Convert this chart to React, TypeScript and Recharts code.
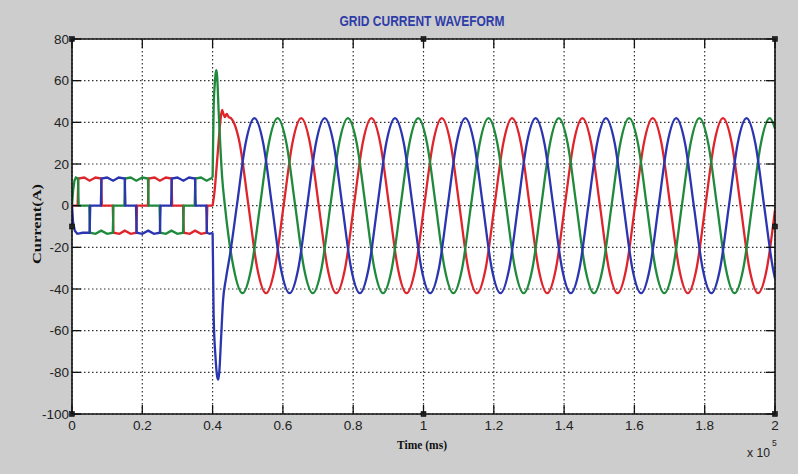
import React from 'react';
import { LineChart, Line, XAxis, YAxis, CartesianGrid, ReferenceDot } from 'recharts';

// x in units of 1e5 (as on the axis), y = current (A)
const X_TICKS = [0, 0.2, 0.4, 0.6, 0.8, 1, 1.2, 1.4, 1.6, 1.8, 2];
const Y_TICKS = [-100, -80, -60, -40, -20, 0, 20, 40, 60, 80];

const TITLE = 'GRID CURRENT WAVEFORM';
const X_LABEL = 'Time (ms)';
const Y_LABEL = 'Current(A)';

// ---- before t = 0.4 : six-step currents ----
const redStep: [number, number][] = [
  [0, 0], [0.016, 0], [0.018, 13], [0.035, 13.5], [0.05, 12], [0.067, 13.5], [0.083, 13], [0.085, 0],
  [0.116, 0], [0.118, -13], [0.135, -13.5], [0.15, -12], [0.167, -13.5], [0.183, -13], [0.185, 0],
  [0.216, 0], [0.218, 13], [0.235, 13.5], [0.25, 12], [0.267, 13.5], [0.283, 13], [0.285, 0],
  [0.316, 0], [0.318, -13], [0.335, -13.5], [0.35, -12], [0.367, -13.5], [0.383, -13], [0.385, 0],
  [0.4, 0],
];
const greenStep: [number, number][] = [
  [0, 0], [0.003, 7], [0.007, 12], [0.011, 13.5], [0.017, 13], [0.019, 0],
  [0.049, 0], [0.051, -13], [0.067, -13.5], [0.083, -12], [0.1, -13.5], [0.116, -13], [0.118, 0],
  [0.149, 0], [0.151, 13], [0.167, 13.5], [0.183, 12], [0.2, 13.5], [0.216, 13], [0.218, 0],
  [0.249, 0], [0.251, -13], [0.267, -13.5], [0.283, -12], [0.3, -13.5], [0.316, -13], [0.318, 0],
  [0.349, 0], [0.351, 13], [0.367, 13.5], [0.383, 12], [0.4, 13.5],
];
const blueStep: [number, number][] = [
  [0, 0], [0.003, -8], [0.008, -12], [0.015, -13.5], [0.03, -13], [0.05, -13], [0.052, 0],
  [0.082, 0], [0.084, 13], [0.1, 13.5], [0.117, 12], [0.133, 13.5], [0.15, 13], [0.152, 0],
  [0.182, 0], [0.184, -13], [0.2, -13.5], [0.217, -12], [0.233, -13.5], [0.25, -13], [0.252, 0],
  [0.282, 0], [0.284, 13], [0.3, 13.5], [0.317, 12], [0.333, 13.5], [0.35, 13], [0.352, 0],
  [0.382, 0], [0.384, -13], [0.392, -13.5], [0.4, -13],
];

// ---- from t = 0.4 : transient, then sinusoidal currents ----
const redWave: [number, number][] = [
  [0.4, 0], [0.405, 6], [0.414, 24], [0.423, 42], [0.427, 46], [0.431, 44], [0.435, 42.5], [0.44, 44],
  [0.446, 42.5], [0.452, 42], [0.477, 30], [0.502, 0], [0.527, -30], [0.552, -42], [0.577, -30],
  [0.602, 0], [0.627, 30], [0.652, 42], [0.677, 30], [0.702, 0], [0.727, -30], [0.752, -42], [0.777, -30],
  [0.802, 0], [0.827, 30], [0.852, 42], [0.877, 30], [0.902, 0], [0.927, -30], [0.952, -42], [0.977, -30],
  [1.002, 0], [1.027, 30], [1.052, 42], [1.077, 30], [1.102, 0], [1.127, -30], [1.152, -42], [1.177, -30],
  [1.202, 0], [1.227, 30], [1.252, 42], [1.277, 30], [1.302, 0], [1.327, -30], [1.352, -42], [1.377, -30],
  [1.402, 0], [1.427, 30], [1.452, 42], [1.477, 30], [1.502, 0], [1.527, -30], [1.552, -42], [1.577, -30],
  [1.602, 0], [1.627, 30], [1.652, 42], [1.677, 30], [1.702, 0], [1.727, -30], [1.752, -42], [1.777, -30],
  [1.802, 0], [1.827, 30], [1.852, 42], [1.877, 30], [1.902, 0], [1.927, -30], [1.952, -42], [1.977, -30],
  [2.0, -2],
];
const greenWave: [number, number][] = [
  [0.4, 13.5], [0.401, 25], [0.403, 47], [0.406, 58], [0.409, 64], [0.411, 65], [0.413, 62], [0.417, 46],
  [0.421, 32], [0.427, 14], [0.435, 0], [0.46, -30], [0.485, -42], [0.51, -30], [0.535, 0], [0.56, 30],
  [0.585, 42], [0.61, 30], [0.635, 0], [0.66, -30], [0.685, -42], [0.71, -30], [0.735, 0], [0.76, 30],
  [0.785, 42], [0.81, 30], [0.835, 0], [0.86, -30], [0.885, -42], [0.91, -30], [0.935, 0], [0.96, 30],
  [0.985, 42], [1.01, 30], [1.035, 0], [1.06, -30], [1.085, -42], [1.11, -30], [1.135, 0], [1.16, 30],
  [1.185, 42], [1.21, 30], [1.235, 0], [1.26, -30], [1.285, -42], [1.31, -30], [1.335, 0], [1.36, 30],
  [1.385, 42], [1.41, 30], [1.435, 0], [1.46, -30], [1.485, -42], [1.51, -30], [1.535, 0], [1.56, 30],
  [1.585, 42], [1.61, 30], [1.635, 0], [1.66, -30], [1.685, -42], [1.71, -30], [1.735, 0], [1.76, 30],
  [1.785, 42], [1.81, 30], [1.835, 0], [1.86, -30], [1.885, -42], [1.91, -30], [1.935, 0], [1.96, 30],
  [1.985, 42], [2.0, 37],
];
const blueWave: [number, number][] = [
  [0.4, -13], [0.401, -25], [0.403, -53], [0.408, -72], [0.413, -82], [0.416, -83.5], [0.419, -80],
  [0.424, -64], [0.43, -45], [0.438, -35], [0.45, -23], [0.469, 0], [0.494, 30], [0.519, 42], [0.544, 30],
  [0.569, 0], [0.594, -30], [0.619, -42], [0.644, -30], [0.669, 0], [0.694, 30], [0.719, 42], [0.744, 30],
  [0.769, 0], [0.794, -30], [0.819, -42], [0.844, -30], [0.869, 0], [0.894, 30], [0.919, 42], [0.944, 30],
  [0.969, 0], [0.994, -30], [1.019, -42], [1.044, -30], [1.069, 0], [1.094, 30], [1.119, 42], [1.144, 30],
  [1.169, 0], [1.194, -30], [1.219, -42], [1.244, -30], [1.269, 0], [1.294, 30], [1.319, 42], [1.344, 30],
  [1.369, 0], [1.394, -30], [1.419, -42], [1.444, -30], [1.469, 0], [1.494, 30], [1.519, 42], [1.544, 30],
  [1.569, 0], [1.594, -30], [1.619, -42], [1.644, -30], [1.669, 0], [1.694, 30], [1.719, 42], [1.744, 30],
  [1.769, 0], [1.794, -30], [1.819, -42], [1.844, -30], [1.869, 0], [1.894, 30], [1.919, 42], [1.944, 30],
  [1.969, 0], [1.994, -30], [2.0, -35],
];

// axes selection handles (MATLAB style)
const HANDLES: [number, number][] = [
  [0, 80], [1, 80], [2, 80], [0, -10], [2, -10], [0, -100], [1, -100], [2, -100],
];

const rows = (pts: [number, number][]) => pts.map(([t, v]) => ({ t, v }));

const RED = '#e0242c';
const GREEN = '#1f8a3c';
const BLUE = '#2b35b0';
const TICK_FONT = "'Liberation Sans Narrow', 'Arial Narrow', 'Liberation Sans', Arial, sans-serif";
const SERIF = "'Liberation Serif', 'Times New Roman', serif";

const TICK_LEN = 9;

const BottomTick = (p: any) => (
  <g>
    <line x1={p.x} x2={p.x} y1={p.y} y2={p.y - TICK_LEN} stroke="#111" strokeWidth={1.3} />
    <text x={p.x} y={p.y + 16} textAnchor="middle" fontSize={13.5} fontFamily={TICK_FONT} fill="#222">
      {String(p.payload.value)}
    </text>
  </g>
);
const TopTick = (p: any) => (
  <line x1={p.x} x2={p.x} y1={p.y} y2={p.y + TICK_LEN} stroke="#111" strokeWidth={1.3} />
);
const LeftTick = (p: any) => (
  <g>
    <line x1={p.x} x2={p.x + TICK_LEN} y1={p.y} y2={p.y} stroke="#111" strokeWidth={1.3} />
    <text x={p.x - 3} y={p.y + 4.5} textAnchor="end" fontSize={13.5} fontFamily={TICK_FONT} fill="#222">
      {String(p.payload.value)}
    </text>
  </g>
);
const RightTick = (p: any) => (
  <line x1={p.x} x2={p.x - TICK_LEN} y1={p.y} y2={p.y} stroke="#111" strokeWidth={1.3} />
);

const Handle = (p: any) => (
  <rect x={p.cx - 2.5} y={p.cy - 2.5} width={5} height={5} fill="#222" stroke="#000" strokeWidth={0.5} />
);

export default function App() {
  return (
    <div style={{ position: 'relative', width: 798, height: 474, background: '#cdcdcd', overflow: 'hidden' }}>
      <style>{'body{margin:0}'}</style>
      <LineChart width={798} height={474} margin={{ top: 38, right: 22, bottom: 30, left: 32 }}>
        <CartesianGrid stroke="#333" strokeDasharray="1.5 2.5" strokeWidth={1.2} fill="#ffffff" />
        <XAxis
          dataKey="t"
          type="number"
          domain={[0, 2]}
          ticks={X_TICKS}
          interval={0}
          allowDataOverflow
          height={30}
          tickSize={0}
          tickMargin={0}
          tick={BottomTick}
          axisLine={{ stroke: '#111', strokeWidth: 1.6 }}
        />
        <XAxis
          xAxisId="top"
          orientation="top"
          dataKey="t"
          type="number"
          domain={[0, 2]}
          ticks={X_TICKS}
          interval={0}
          allowDataOverflow
          height={1}
          tickSize={0}
          tickMargin={0}
          tick={TopTick}
          axisLine={{ stroke: '#111', strokeWidth: 1.6 }}
        />
        <YAxis
          type="number"
          domain={[-100, 80]}
          ticks={Y_TICKS}
          interval={0}
          allowDataOverflow
          width={40}
          tickSize={0}
          tickMargin={0}
          tick={LeftTick}
          axisLine={{ stroke: '#111', strokeWidth: 1.6 }}
        />
        <YAxis
          yAxisId="right"
          orientation="right"
          type="number"
          domain={[-100, 80]}
          ticks={Y_TICKS}
          interval={0}
          allowDataOverflow
          width={1}
          tickSize={0}
          tickMargin={0}
          tick={RightTick}
          axisLine={{ stroke: '#111', strokeWidth: 1.6 }}
        />
        <Line data={rows(redStep)} dataKey="v" type="linear" stroke={RED} strokeWidth={2.3} dot={false} activeDot={false} isAnimationActive={false} />
        <Line data={rows(greenStep)} dataKey="v" type="linear" stroke={GREEN} strokeWidth={2.3} dot={false} activeDot={false} isAnimationActive={false} />
        <Line data={rows(blueStep)} dataKey="v" type="linear" stroke={BLUE} strokeWidth={2.3} dot={false} activeDot={false} isAnimationActive={false} />
        <Line data={rows(redWave)} dataKey="v" type="monotone" stroke={RED} strokeWidth={2.3} dot={false} activeDot={false} isAnimationActive={false} />
        <Line data={rows(greenWave)} dataKey="v" type="monotone" stroke={GREEN} strokeWidth={2.3} dot={false} activeDot={false} isAnimationActive={false} />
        <Line data={rows(blueWave)} dataKey="v" type="monotone" stroke={BLUE} strokeWidth={2.3} dot={false} activeDot={false} isAnimationActive={false} />
        {HANDLES.map(([hx, hy], i) => (
          <ReferenceDot key={i} x={hx} y={hy} r={3} ifOverflow="visible" shape={Handle} />
        ))}
      </LineChart>
      <svg width={798} height={474} style={{ position: 'absolute', left: 0, top: 0, pointerEvents: 'none' }}>
        <text x={422} y={26} textAnchor="middle" fontSize={14} fontWeight="bold" fontFamily={TICK_FONT}
          fill="#2e3ca8" textLength={165} lengthAdjust="spacingAndGlyphs">{TITLE}</text>
        <text x={422} y={449} textAnchor="middle" fontSize={13} fontWeight="bold" fontFamily={SERIF}
          fill="#111" textLength={50} lengthAdjust="spacingAndGlyphs">{X_LABEL}</text>
        <text transform="translate(41,224) rotate(-90)" textAnchor="middle" fontSize={13} fontWeight="bold"
          fontFamily={SERIF} fill="#111" textLength={80} lengthAdjust="spacingAndGlyphs">{Y_LABEL}</text>
        <text x={747} y={457} fontSize={12} fontFamily={TICK_FONT} fill="#222" textLength={23}
          lengthAdjust="spacingAndGlyphs">x 10</text>
        <text x={772} y={446} fontSize={8.5} fontFamily={TICK_FONT} fill="#222">5</text>
      </svg>
    </div>
  );
}
